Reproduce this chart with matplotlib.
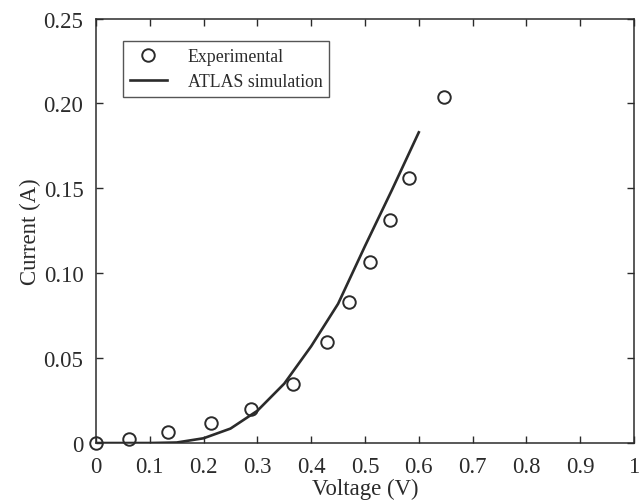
import matplotlib
matplotlib.use("Agg")
import matplotlib.pyplot as plt

# Experimental data
exp_voltage = [0.0, 0.061, 0.134, 0.213, 0.288, 0.366, 0.429, 0.470, 0.509, 0.546, 0.582, 0.647]
exp_current = [0.0, 0.0024, 0.0067, 0.012, 0.0202, 0.0347, 0.0593, 0.0829, 0.1064, 0.1315, 0.1559, 0.204]

# ATLAS simulation
sim_voltage = [0.0, 0.05, 0.10, 0.15, 0.20, 0.25, 0.30, 0.35, 0.40, 0.45, 0.50, 0.55, 0.60]
sim_current = [0.0, 0.0, 0.0, 0.0003, 0.0028, 0.0085, 0.019, 0.035, 0.057, 0.082, 0.116, 0.149, 0.183]

x_ticks = [0, 0.1, 0.2, 0.3, 0.4, 0.5, 0.6, 0.7, 0.8, 0.9, 1.0]
y_ticks = [0, 0.05, 0.10, 0.15, 0.20, 0.25]
x_tick_labels = ["0", "0.1", "0.2", "0.3", "0.4", "0.5", "0.6", "0.7", "0.8", "0.9", "1"]
y_tick_labels = ["0", "0.05", "0.10", "0.15", "0.20", "0.25"]

plt.rcParams['font.family'] = ['Liberation Serif', 'DejaVu Serif']

col = '#2b2b2b'
fig = plt.figure(figsize=(6.44, 5.02), dpi=100)
ax = fig.add_axes([0.149, 0.1155, 0.8355, 0.8455])

ax.plot(sim_voltage, sim_current, '-', color=col, lw=1.9, label='ATLAS simulation', zorder=2)
ax.plot(exp_voltage, exp_current, 'o', mfc='none', mec=col, mew=1.4, ms=9.0,
        label='Experimental', zorder=3, clip_on=False)

ax.set_xlim(0, 1)
ax.set_ylim(0, 0.25)
ax.set_xticks(x_ticks)
ax.set_xticklabels(x_tick_labels)
ax.set_yticks(y_ticks)
ax.set_yticklabels(y_tick_labels)
ax.tick_params(direction='in', top=True, right=True, length=5, width=1.0,
               color=col, labelcolor=col, labelsize=16.4)
ax.tick_params(axis='x', pad=9)
ax.tick_params(axis='y', pad=9)
for s in ax.spines.values():
    s.set_color(col)
    s.set_linewidth(1.1)

ax.set_xlabel('Voltage (V)', fontsize=16.4, color=col, labelpad=1)
ax.set_ylabel('Current (A)', fontsize=16.4, color=col, labelpad=2)

handles, labels = ax.get_legend_handles_labels()
leg = ax.legend(handles[::-1], labels[::-1], loc='upper left',
                bbox_to_anchor=(0.0496, 0.9477), fontsize=12.8, frameon=True,
                fancybox=False, edgecolor=col, handlelength=2.1, handletextpad=1.15,
                borderpad=0.4, labelspacing=0.45, borderaxespad=0)
leg.get_frame().set_linewidth(1.0)
for t in leg.get_texts():
    t.set_color(col)

fig.savefig('out.png', dpi=100)
